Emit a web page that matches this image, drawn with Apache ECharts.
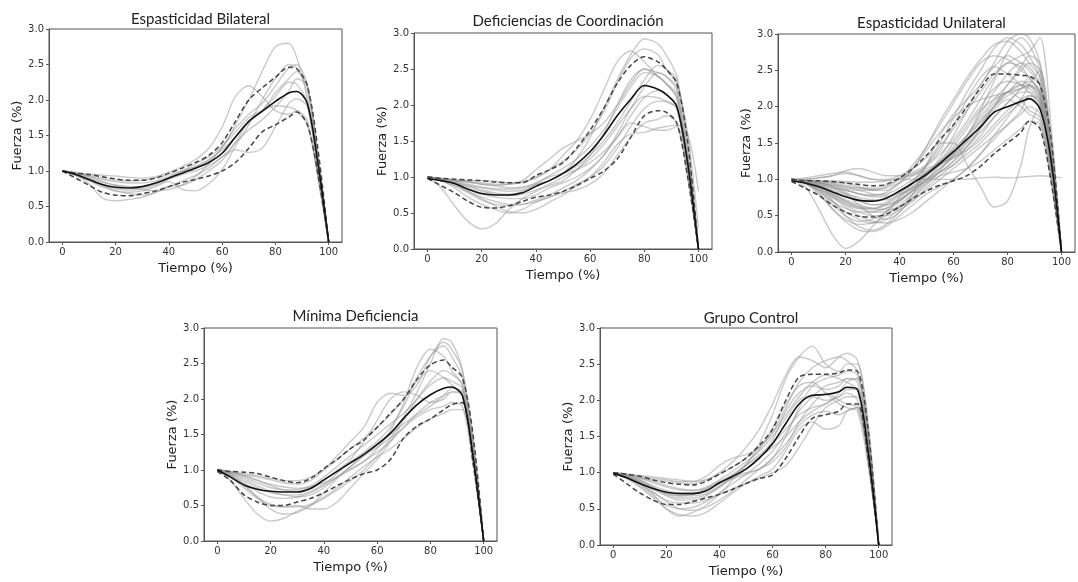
<!DOCTYPE html>
<html><head><meta charset="utf-8">
<script src="https://cdn.jsdelivr.net/npm/echarts@6/dist/echarts.min.js"></script>
<style>html,body{margin:0;padding:0;background:#fff}#c{width:1078px;height:582px}</style>
</head><body><div id="c"></div>
<script>
// Time (%) sample positions shared by all curves
const xs = [0,5,10,15,20,25,30,35,40,45,50,55,60,65,70,75,80,85,88,92,96,100];
const titles = ["Espasticidad Bilateral","Deficiencias de Coordinación","Espasticidad Unilateral","Mínima Deficiencia","Grupo Control"];
const xTicks = [0,20,40,60,80,100];
const yTicks = [0,0.5,1,1.5,2,2.5,3];

// Panel 1: Espasticidad Bilateral
const p1Mean = [1.0,0.95,0.88,0.81,0.77,0.76,0.78,0.83,0.9,0.97,1.04,1.12,1.25,1.48,1.7,1.84,1.98,2.1,2.12,1.95,1.1,0];
const p1Upper = [1.0,0.97,0.95,0.92,0.89,0.87,0.87,0.9,0.97,1.04,1.12,1.22,1.4,1.7,2.0,2.17,2.32,2.46,2.44,2.2,1.3,0];
const p1Lower = [1.0,0.9,0.8,0.7,0.66,0.65,0.68,0.72,0.78,0.84,0.88,0.93,1.0,1.12,1.32,1.55,1.65,1.76,1.83,1.65,0.95,0];
const p1Trials = [
 [1.0,0.97,0.93,0.88,0.85,0.83,0.83,0.86,0.92,0.99,1.06,1.15,1.32,1.65,2.0,2.4,2.75,2.8,2.6,2.0,1.0,0],
 [1.0,0.94,0.82,0.62,0.58,0.6,0.63,0.7,0.78,0.8,0.88,1.0,1.15,1.4,1.7,1.85,2.1,2.3,2.4,2.2,1.2,0],
 [1.0,0.96,0.9,0.8,0.72,0.7,0.72,0.78,0.85,0.74,0.72,0.82,1.02,1.35,1.65,2.0,2.3,2.5,2.45,2.1,1.2,0],
 [1.0,0.98,0.96,0.94,0.93,0.91,0.9,0.92,0.98,1.06,1.16,1.32,1.62,2.05,2.2,2.05,1.85,1.8,1.85,1.7,0.9,0],
 [1.0,0.94,0.86,0.78,0.72,0.68,0.66,0.7,0.78,0.86,0.94,1.04,1.2,1.3,1.26,1.32,1.62,1.95,2.02,1.9,1.0,0],
 [1.0,0.97,0.92,0.85,0.8,0.78,0.78,0.82,0.9,1.0,1.1,1.2,1.35,1.55,1.75,1.85,1.92,1.9,1.85,1.65,0.9,0],
 [1.0,0.95,0.88,0.8,0.75,0.73,0.75,0.8,0.88,0.95,1.0,1.08,1.2,1.4,1.58,1.72,1.9,2.12,2.3,2.2,1.2,0],
 [1.0,0.97,0.94,0.9,0.87,0.86,0.87,0.9,0.95,1.0,1.06,1.16,1.3,1.48,1.68,1.85,2.05,2.25,2.22,1.95,1.0,0],
 [1.0,0.96,0.9,0.84,0.8,0.77,0.74,0.72,0.74,0.8,0.92,1.1,1.35,1.6,1.8,1.95,2.2,2.45,2.5,2.2,1.1,0]
];

// Panel 2: Deficiencias de Coordinación
const p2Mean = [0.98,0.95,0.91,0.83,0.77,0.75,0.75,0.78,0.87,0.95,1.05,1.18,1.35,1.58,1.85,2.08,2.27,2.22,2.15,1.98,1.2,0];
const p2Upper = [1.0,0.98,0.97,0.96,0.95,0.93,0.92,0.92,1.02,1.1,1.2,1.4,1.65,1.95,2.3,2.55,2.67,2.6,2.5,2.3,1.5,0];
const p2Lower = [0.98,0.88,0.78,0.66,0.58,0.57,0.6,0.66,0.72,0.75,0.8,0.88,0.98,1.08,1.25,1.55,1.85,1.92,1.9,1.75,1.0,0];
const p2Trials = [
 [1.0,0.85,0.6,0.38,0.28,0.35,0.55,0.7,0.8,0.88,0.95,1.1,1.3,1.6,2.0,2.35,2.5,2.4,2.3,2.1,1.2,0],
 [1.0,0.97,0.95,0.93,0.9,0.88,0.85,0.86,0.9,0.95,1.05,1.25,1.55,1.95,2.35,2.7,2.92,2.85,2.7,2.4,1.4,0],
 [1.0,0.96,0.9,0.8,0.7,0.6,0.52,0.5,0.55,0.65,0.75,0.88,1.0,1.2,1.45,1.6,1.62,1.68,1.7,1.72,1.6,0.8],
 [1.0,0.98,0.96,0.95,0.95,0.94,0.92,0.93,0.98,1.1,1.3,1.5,1.8,2.2,2.6,2.75,2.6,2.4,2.3,2.1,1.2,0],
 [1.0,0.95,0.88,0.78,0.68,0.62,0.6,0.62,0.68,0.75,0.85,0.95,1.1,1.3,1.6,1.95,2.25,2.45,2.4,2.2,1.2,0],
 [1.0,0.97,0.93,0.88,0.85,0.82,0.8,0.82,0.88,0.95,1.05,1.15,1.3,1.5,1.75,2.05,2.35,2.55,2.5,2.35,1.5,0],
 [1.0,0.96,0.92,0.86,0.8,0.76,0.74,0.76,0.82,0.9,1.0,1.1,1.25,1.45,1.7,1.95,2.12,2.1,2.05,1.95,1.2,0],
 [1.0,0.95,0.85,0.72,0.62,0.55,0.5,0.55,0.65,0.72,0.78,0.82,0.9,1.05,1.3,1.55,1.75,1.8,1.85,1.75,1.0,0],
 [1.0,0.97,0.95,0.93,0.9,0.88,0.9,0.95,1.1,1.25,1.4,1.5,1.6,1.75,2.0,2.3,2.5,2.45,2.4,2.25,1.3,0],
 [1.0,0.96,0.9,0.83,0.76,0.72,0.7,0.7,0.75,0.85,0.92,1.0,1.12,1.3,1.55,1.85,2.1,2.2,2.15,2.0,1.1,0],
 [1.0,0.98,0.95,0.9,0.86,0.84,0.83,0.85,0.92,1.02,1.12,1.25,1.42,1.65,1.95,2.25,2.45,2.4,2.3,2.15,1.3,0],
 [1.0,0.95,0.88,0.8,0.72,0.66,0.62,0.62,0.66,0.72,0.8,0.9,1.0,1.15,1.4,1.7,1.95,2.05,2.05,1.95,1.1,0],
 [1.0,0.97,0.93,0.88,0.82,0.78,0.76,0.8,0.9,1.0,1.05,1.1,1.2,1.35,1.55,1.75,1.7,1.65,1.65,1.7,1.1,0],
 [1.0,0.98,0.96,0.94,0.92,0.9,0.9,0.93,1.0,1.1,1.22,1.38,1.6,1.9,2.3,2.65,2.78,2.7,2.5,2.3,1.6,0.3]
];

// Panel 3: Espasticidad Unilateral
const p3Mean = [0.98,0.95,0.9,0.83,0.76,0.71,0.7,0.74,0.84,0.95,1.07,1.22,1.38,1.55,1.72,1.92,2.0,2.07,2.11,1.97,1.3,0];
const p3Upper = [1.0,0.98,0.98,0.97,0.95,0.93,0.91,0.93,1.02,1.15,1.33,1.55,1.75,2.0,2.25,2.45,2.45,2.43,2.42,2.3,1.6,0];
const p3Lower = [0.97,0.88,0.78,0.65,0.55,0.49,0.48,0.52,0.62,0.74,0.84,0.92,0.98,1.05,1.18,1.35,1.5,1.65,1.8,1.7,1.0,0];
const p3Trials = [
 [1.0,0.9,0.6,0.25,0.05,0.15,0.35,0.55,0.75,0.95,1.2,1.5,1.85,2.2,2.5,2.8,2.95,2.85,2.7,2.4,1.4,0],
 [1.0,1.02,1.05,1.08,1.1,1.05,1.0,0.98,1.0,1.0,1.0,1.0,1.0,1.0,1.02,1.03,1.02,1.03,1.04,1.05,1.04,1.02],
 [1.0,0.98,0.95,0.9,0.8,0.65,0.5,0.45,0.55,0.8,1.2,1.6,1.9,2.1,2.3,2.6,2.9,3.0,2.95,2.6,1.5,0],
 [1.0,0.95,0.85,0.7,0.55,0.45,0.4,0.45,0.6,0.8,1.0,1.2,1.45,1.7,1.95,2.1,2.2,2.3,2.35,2.2,1.3,0],
 [1.0,1.0,1.02,1.05,1.08,1.05,1.0,1.0,1.05,1.15,1.3,1.5,1.5,1.2,0.9,0.62,0.7,1.2,1.7,2.0,1.3,0],
 [1.0,0.97,0.9,0.8,0.7,0.62,0.58,0.6,0.7,0.85,1.05,1.3,1.6,1.95,2.3,2.55,2.7,2.6,2.5,2.3,1.4,0],
 [1.0,0.96,0.88,0.72,0.5,0.35,0.3,0.38,0.55,0.75,0.95,1.1,1.25,1.45,1.7,2.0,2.2,2.35,2.3,2.1,1.2,0],
 [1.0,0.98,0.95,0.92,0.88,0.85,0.85,0.9,1.0,1.2,1.45,1.75,2.05,2.35,2.6,2.7,2.65,2.5,2.4,2.2,1.3,0],
 [1.0,0.95,0.85,0.7,0.6,0.55,0.55,0.6,0.7,0.85,1.0,1.1,1.2,1.35,1.5,1.7,1.9,2.05,2.1,2.0,1.2,0],
 [1.0,0.97,0.92,0.88,0.85,0.8,0.78,0.8,0.88,1.0,1.1,1.2,1.3,1.45,1.65,1.85,2.05,2.25,2.4,2.3,1.4,0],
 [1.0,0.95,0.82,0.6,0.42,0.3,0.28,0.35,0.5,0.65,0.8,0.9,1.0,1.15,1.35,1.55,1.75,1.95,2.15,2.1,1.3,0],
 [1.0,0.98,0.97,0.96,0.95,0.9,0.85,0.85,0.95,1.15,1.45,1.8,2.1,2.4,2.65,2.85,2.9,2.75,2.6,2.4,1.4,0],
 [1.0,0.96,0.9,0.82,0.72,0.65,0.6,0.58,0.62,0.72,0.85,1.0,1.15,1.3,1.45,1.6,1.75,1.9,2.0,1.9,1.1,0],
 [1.0,0.98,0.95,0.9,0.82,0.72,0.65,0.65,0.72,0.88,1.05,1.25,1.5,1.75,2.0,2.25,2.35,2.3,2.25,2.1,1.2,0],
 [1.0,0.97,0.9,0.78,0.65,0.55,0.5,0.5,0.58,0.7,0.88,1.05,1.2,1.4,1.6,1.85,2.05,2.2,2.2,2.05,1.2,0],
 [1.0,1.0,1.02,1.05,1.12,1.15,1.1,1.05,1.05,1.1,1.2,1.4,1.75,2.1,2.4,2.55,2.45,2.3,2.2,2.0,1.2,0],
 [1.0,0.95,0.86,0.75,0.62,0.5,0.42,0.4,0.45,0.55,0.7,0.85,1.0,1.15,1.35,1.6,1.85,2.1,2.3,2.5,1.6,0],
 [1.0,0.97,0.93,0.87,0.8,0.75,0.72,0.72,0.78,0.9,1.05,1.2,1.35,1.55,1.8,2.05,2.2,2.1,1.95,1.85,1.1,0],
 [1.0,0.98,0.96,0.94,0.9,0.85,0.8,0.78,0.82,0.95,1.1,1.25,1.4,1.6,1.85,2.1,2.3,2.5,2.6,2.5,1.5,0],
 [1.0,0.94,0.8,0.6,0.45,0.38,0.4,0.5,0.65,0.8,0.95,1.05,1.1,1.15,1.25,1.4,1.55,1.7,1.8,1.75,1.0,0],
 [1.0,0.97,0.92,0.85,0.78,0.7,0.65,0.68,0.8,0.98,1.2,1.45,1.7,1.95,2.2,2.45,2.6,2.7,2.75,2.95,1.8,0],
 [1.0,0.98,0.95,0.92,0.9,0.88,0.88,0.92,1.0,1.08,1.15,1.22,1.3,1.4,1.55,1.75,1.95,2.1,2.15,2.05,1.2,0],
 [1.0,0.96,0.88,0.76,0.66,0.6,0.6,0.66,0.76,0.9,1.08,1.25,1.42,1.6,1.8,2.0,2.15,2.25,2.28,2.15,1.3,0],
 [1.0,0.99,0.98,0.98,0.97,0.96,0.96,0.98,1.02,1.06,1.12,1.2,1.35,1.6,1.95,2.35,2.75,2.95,2.85,2.5,1.5,0],
 [1.0,0.95,0.84,0.66,0.5,0.42,0.45,0.55,0.7,0.85,1.0,1.15,1.3,1.5,1.75,2.0,2.2,2.3,2.3,2.2,1.3,0],
 [1.0,0.97,0.93,0.9,0.85,0.8,0.78,0.82,0.95,1.15,1.4,1.65,1.85,2.0,2.1,2.15,2.2,2.25,2.3,2.15,1.3,0],
 [1.0,0.95,0.88,0.78,0.68,0.6,0.55,0.55,0.62,0.75,0.92,1.12,1.35,1.6,1.9,2.2,2.45,2.6,2.55,2.3,1.4,0],
 [1.0,0.98,0.96,0.92,0.86,0.8,0.76,0.76,0.8,0.88,0.98,1.1,1.25,1.45,1.7,1.95,2.1,2.0,1.9,1.8,1.1,0],
 [1.0,0.96,0.9,0.8,0.7,0.62,0.6,0.64,0.72,0.84,0.98,1.15,1.32,1.52,1.75,2.0,2.3,2.55,2.7,2.6,1.6,0],
 [1.0,0.99,0.97,0.95,0.92,0.88,0.86,0.88,0.95,1.05,1.18,1.35,1.55,1.8,2.1,2.4,2.6,2.55,2.4,2.2,1.3,0]
];

// Panel 4: Mínima Deficiencia
const p4Mean = [1.0,0.9,0.79,0.73,0.7,0.69,0.69,0.74,0.86,0.98,1.1,1.22,1.36,1.52,1.73,1.92,2.06,2.15,2.17,2.05,1.2,0];
const p4Upper = [1.0,0.98,0.97,0.95,0.9,0.85,0.82,0.88,1.02,1.15,1.3,1.42,1.6,1.8,2.0,2.28,2.48,2.55,2.45,2.3,1.5,0];
const p4Lower = [0.98,0.85,0.65,0.55,0.5,0.5,0.55,0.6,0.68,0.78,0.87,0.95,1.0,1.15,1.45,1.62,1.72,1.85,1.92,1.95,1.1,0];
const p4Trials = [
 [1.0,0.85,0.6,0.38,0.28,0.32,0.42,0.5,0.6,0.72,0.85,1.0,1.2,1.45,1.75,2.1,2.5,2.85,2.8,2.4,1.4,0],
 [1.0,0.97,0.93,0.9,0.86,0.82,0.8,0.85,1.0,1.2,1.4,1.6,1.95,2.08,2.05,2.2,2.6,2.8,2.7,2.4,1.4,0],
 [1.0,0.9,0.75,0.6,0.5,0.48,0.5,0.45,0.45,0.55,0.75,0.95,1.15,1.4,1.7,2.0,2.25,2.4,2.35,2.2,1.3,0],
 [1.0,0.95,0.85,0.75,0.68,0.65,0.65,0.7,0.8,0.95,1.15,1.4,1.7,2.0,2.1,2.05,1.95,2.0,2.1,2.1,1.3,0],
 [1.0,0.92,0.78,0.62,0.52,0.48,0.48,0.52,0.62,0.75,0.9,1.05,1.18,1.3,1.45,1.6,1.72,1.8,1.85,1.85,1.1,0],
 [1.0,0.97,0.92,0.85,0.78,0.72,0.7,0.75,0.85,1.0,1.12,1.25,1.4,1.6,1.9,2.3,2.6,2.75,2.6,2.3,1.4,0],
 [1.0,0.95,0.88,0.78,0.7,0.65,0.62,0.65,0.75,0.9,1.05,1.2,1.35,1.5,1.65,1.78,1.9,2.05,2.15,2.1,1.2,0],
 [1.0,0.93,0.8,0.62,0.45,0.38,0.4,0.5,0.68,0.88,1.05,1.2,1.32,1.45,1.6,1.8,1.95,2.05,2.1,2.05,1.2,0],
 [1.0,0.98,0.95,0.92,0.88,0.85,0.85,0.9,1.0,1.15,1.3,1.45,1.6,1.78,2.0,2.25,2.4,2.3,2.2,2.05,1.2,0],
 [1.0,0.96,0.9,0.82,0.75,0.72,0.72,0.78,0.9,1.05,1.2,1.35,1.5,1.65,1.8,2.0,2.2,2.3,2.25,2.15,1.3,0],
 [1.0,0.93,0.82,0.7,0.62,0.6,0.62,0.68,0.78,0.9,1.02,1.12,1.25,1.4,1.6,1.75,1.85,1.9,1.95,1.9,1.1,0],
 [1.0,0.97,0.92,0.86,0.8,0.76,0.74,0.76,0.82,0.9,1.0,1.12,1.3,1.55,1.95,2.45,2.7,2.6,2.4,2.2,1.3,0]
];

// Panel 5: Grupo Control
const p5Mean = [0.99,0.93,0.85,0.78,0.73,0.71,0.71,0.75,0.86,0.95,1.05,1.2,1.4,1.68,1.95,2.07,2.08,2.12,2.18,2.15,1.3,0];
const p5Upper = [1.0,0.98,0.95,0.9,0.86,0.84,0.83,0.88,0.98,1.08,1.2,1.38,1.6,2.0,2.32,2.36,2.36,2.38,2.42,2.4,1.6,0];
const p5Lower = [0.98,0.85,0.72,0.62,0.56,0.56,0.6,0.65,0.7,0.77,0.85,0.92,0.97,1.2,1.5,1.75,1.8,1.85,1.95,1.95,1.2,0];
const p5Trials = [
 [1.0,0.95,0.85,0.7,0.5,0.4,0.45,0.55,0.7,0.9,1.1,1.4,1.8,2.3,2.6,2.75,2.5,2.4,2.5,2.5,1.6,0],
 [1.0,0.97,0.93,0.9,0.88,0.86,0.85,0.9,1.0,1.15,1.35,1.6,1.95,2.35,2.6,2.55,2.45,2.6,2.65,2.55,1.7,0],
 [1.0,0.92,0.8,0.65,0.5,0.42,0.4,0.45,0.58,0.72,0.85,0.95,1.05,1.3,1.6,1.7,1.6,1.65,1.85,1.9,1.2,0],
 [1.0,0.96,0.9,0.82,0.75,0.72,0.72,0.78,0.9,1.02,1.15,1.3,1.5,1.75,2.0,2.05,2.0,2.05,2.15,2.15,1.4,0],
 [1.0,0.98,0.95,0.92,0.9,0.88,0.88,0.95,1.1,1.2,1.25,1.35,1.55,1.9,2.25,2.45,2.55,2.6,2.55,2.4,1.5,0],
 [1.0,0.94,0.84,0.72,0.62,0.58,0.58,0.62,0.7,0.78,0.85,0.92,1.0,1.1,1.35,1.65,1.9,2.0,2.05,2.05,1.3,0],
 [1.0,0.96,0.9,0.8,0.7,0.65,0.65,0.7,0.8,0.92,1.05,1.2,1.45,1.85,2.1,2.2,2.15,2.2,2.3,2.3,1.5,0],
 [1.0,0.97,0.92,0.86,0.8,0.76,0.75,0.8,0.88,0.95,1.0,1.05,1.15,1.35,1.7,1.95,2.1,2.0,1.95,1.9,1.2,0],
 [1.0,0.95,0.88,0.8,0.72,0.68,0.68,0.72,0.82,0.95,1.1,1.25,1.4,1.6,1.8,1.9,1.95,2.1,2.25,2.3,1.5,0],
 [1.0,0.93,0.82,0.68,0.55,0.5,0.52,0.6,0.72,0.85,0.98,1.12,1.3,1.55,1.85,2.05,2.2,2.25,2.3,2.25,1.4,0],
 [1.0,0.98,0.96,0.94,0.92,0.9,0.88,0.9,0.98,1.08,1.2,1.35,1.55,1.8,2.05,2.25,2.35,2.3,2.25,2.15,1.3,0],
 [1.0,0.96,0.88,0.78,0.68,0.62,0.62,0.68,0.8,0.95,1.12,1.32,1.62,1.95,2.2,2.25,2.1,1.95,1.9,1.85,1.1,0],
 [1.0,0.95,0.87,0.77,0.7,0.68,0.7,0.76,0.86,0.98,1.1,1.22,1.35,1.5,1.7,1.85,1.95,2.05,2.1,2.0,1.2,0],
 [1.0,0.97,0.93,0.88,0.82,0.78,0.76,0.78,0.85,0.92,0.98,1.05,1.2,1.5,1.9,2.2,2.3,2.35,2.4,2.35,1.5,0],
 [1.0,0.94,0.86,0.74,0.6,0.5,0.48,0.52,0.62,0.75,0.9,1.05,1.2,1.4,1.65,1.8,1.85,1.8,1.85,1.9,1.2,0]
];

const panels = [
  {mean:p1Mean, up:p1Upper, lo:p1Lower, trials:p1Trials},
  {mean:p2Mean, up:p2Upper, lo:p2Lower, trials:p2Trials},
  {mean:p3Mean, up:p3Upper, lo:p3Lower, trials:p3Trials},
  {mean:p4Mean, up:p4Upper, lo:p4Lower, trials:p4Trials},
  {mean:p5Mean, up:p5Upper, lo:p5Lower, trials:p5Trials}
];

// layout (pixels)
const grids = [
  {left:49, top:29, width:293, height:213},
  {left:414, top:33, width:298, height:216},
  {left:778, top:34, width:297, height:218},
  {left:204, top:328, width:293, height:213},
  {left:600, top:328, width:292, height:217}
];
const titleTops = [7, 9, 11, 304, 306];
const yNameGaps = [25, 25, 21, 22, 25];

const pair = arr => xs.map((x,i)=>[x,arr[i]]);
const tickColor = '#333';
const spine = '#555';

const option = {
  animation:false,
  backgroundColor:'#fff',
  title: titles.map((t,i)=>({
    text:t, left: grids[i].left + grids[i].width/2, top: titleTops[i], textAlign:'center',
    textStyle:{fontFamily:'Lato', fontSize:15, fontWeight:'normal', color:'#222'}
  })),
  grid: grids.map(g=>Object.assign({show:true, borderColor:spine, borderWidth:1, backgroundColor:'transparent', containLabel:false}, g)),
  xAxis: grids.map((g,i)=>({
    type:'value', gridIndex:i, min:-5, max:105,
    name:'Tiempo (%)', nameLocation:'middle', nameGap:20,
    nameTextStyle:{fontFamily:'DejaVu Sans', fontSize:13, color:'#222'},
    axisLine:{show:true, onZero:false, lineStyle:{color:spine, width:1}},
    axisTick:{show:true, length:3, customValues:xTicks, lineStyle:{color:spine}},
    axisLabel:{customValues:xTicks, fontFamily:'DejaVu Sans', fontSize:10, color:tickColor, margin:5},
    splitLine:{show:false}
  })),
  yAxis: grids.map((g,i)=>({
    type:'value', gridIndex:i, min:0, max:3, interval:0.5,
    name:'Fuerza (%)', nameLocation:'middle', nameGap:yNameGaps[i], nameRotate:90,
    nameTextStyle:{fontFamily:'DejaVu Sans', fontSize:13, color:'#222'},
    axisLine:{show:true, onZero:false, lineStyle:{color:spine, width:1}},
    axisTick:{show:true, length:3, lineStyle:{color:spine}},
    axisLabel:{fontFamily:'DejaVu Sans', fontSize:10, color:tickColor, margin:5, formatter:v=>v.toFixed(1)},
    splitLine:{show:false}
  })),
  series: []
};

panels.forEach((p,i)=>{
  p.trials.forEach(tr=>{
    option.series.push({type:'line', xAxisIndex:i, yAxisIndex:i, data:pair(tr), smooth:0.3,
      symbol:'none', silent:true, z:1, lineStyle:{color:'rgba(150,150,150,0.5)', width:1.4}});
  });
  [p.up, p.lo].forEach(d=>{
    option.series.push({type:'line', xAxisIndex:i, yAxisIndex:i, data:pair(d), smooth:0.3,
      symbol:'none', silent:true, z:3, lineStyle:{color:'#444', width:1.5, type:[5,3]}});
  });
  option.series.push({type:'line', xAxisIndex:i, yAxisIndex:i, data:pair(p.mean), smooth:0.3,
    symbol:'none', silent:true, z:4, lineStyle:{color:'#111', width:1.6}});
});

const chart = echarts.init(document.getElementById('c'), null, {renderer:'canvas'});
chart.setOption(option);
</script>
</body></html>
